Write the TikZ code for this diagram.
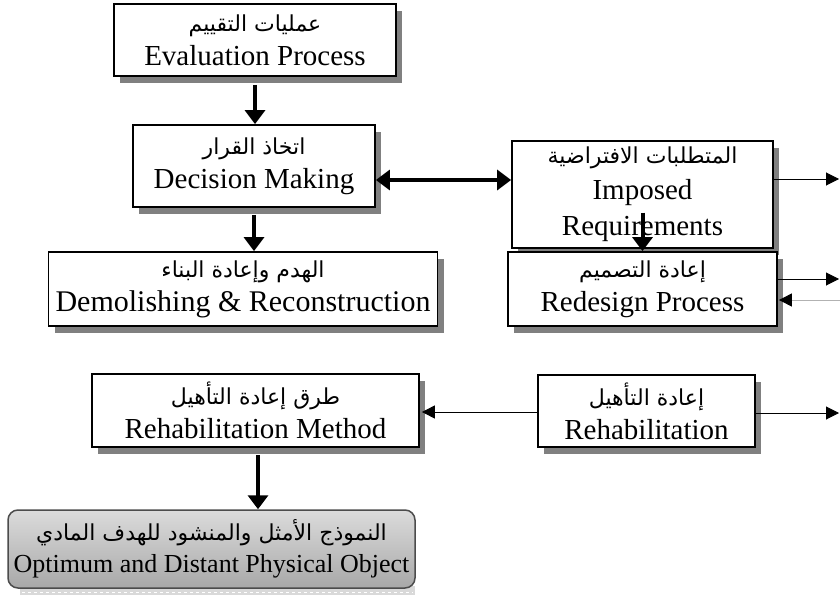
\documentclass[tikz,border=0pt]{standalone}
\usepackage{fontspec}
\setmainfont{Liberation Serif}
\newfontfamily\arfont[Script=Arabic]{DejaVu Sans}
\TeXXeTstate=1
\usetikzlibrary{arrows.meta,shadows}
\definecolor{shadowgray}{HTML}{808080}
\newcommand{\artext}[1]{{\arfont\fontsize{22}{34}\selectfont\beginR #1\endR}}

\begin{document}
\begin{tikzpicture}[x=1pt,y=-1pt,
  box/.style={draw=black, line width=1.8pt, fill=white, inner sep=0pt, align=center,
    font=\fontsize{29}{34}\selectfont,
    drop shadow={fill=shadowgray, opacity=1, shadow xshift=6pt, shadow yshift=-7pt}},
  optbox/.style={draw=gray!60!black, line width=1.5pt, rounded corners=10pt, inner sep=0pt,
    align=center, font=\fontsize{26}{32}\selectfont, top color=gray!28, bottom color=gray!68},
  heavyarrow/.style={line width=4pt, -{Triangle[width=20pt,length=14pt]}},
  lightarrow/.style={line width=1pt, -{Triangle[width=13pt,length=13pt]}},
]
\useasboundingbox (0,0) rectangle (840,599);

% boxes
\node[box, minimum width=282pt, minimum height=72pt] (eval) at (255,40)
  {\artext{عمليات التقييم}\\Evaluation Process};
\node[box, minimum width=242pt, minimum height=82pt] (dec) at (254,166)
  {\artext{اتخاذ القرار}\\Decision Making};
\node[box, minimum width=389pt, minimum height=74pt, font=\fontsize{30}{34}\selectfont] (dem) at (243,289)
  {\artext{الهدم وإعادة البناء}\\Demolishing \& Reconstruction};
\node[box, minimum width=261pt, minimum height=107pt, font=\fontsize{29}{36}\selectfont] (imp) at (642.5,194.5)
  {\artext{المتطلبات الافتراضية}\\Imposed\\Requirements};
\node[box, minimum width=269pt, minimum height=74pt] (red) at (642.5,289)
  {\artext{إعادة التصميم}\\Redesign Process};
\node[box, minimum width=217pt, minimum height=72pt] (reh) at (646.5,411)
  {\artext{إعادة التأهيل}\\Rehabilitation};
\node[box, minimum width=327pt, minimum height=73pt] (rmeth) at (255.5,410.5)
  {\artext{طرق إعادة التأهيل}\\Rehabilitation Method};

% final object box with its textured base strip
\fill[gray!30] (20,586) rectangle (415,595);
\draw[white, line width=1pt, dash pattern=on 3pt off 3pt] (22,592) -- (413,592);
\node[optbox, minimum width=407pt, minimum height=78pt] (opt) at (211.5,549)
  {\artext{النموذج الأمثل والمنشود للهدف المادي}\\Optimum and Distant Physical Object};

% connectors
\draw[heavyarrow] ([yshift=-8pt]eval.south) -- (eval.south |- dec.north);
\draw[heavyarrow] ([yshift=-7pt]dec.south) -- (dec.south |- dem.north);
\coordinate (dy) at ([yshift=-14pt]dec.east);
\draw[line width=4pt, {Triangle[width=20pt,length=14pt]}-{Triangle[width=20pt,length=14pt]}]
  (dy) -- (imp.west |- dy);
\draw[heavyarrow] ([yshift=-18pt]imp.center) -- (imp.center |- red.north);
\coordinate (m1) at (258,455);
\draw[heavyarrow] (m1) -- (m1 |- opt.north);

\coordinate (o1) at (839,179);
\coordinate (o2) at (839,279);
\coordinate (i1) at (840,300);
\coordinate (o3) at (839,413);
\coordinate (w1) at (538,412);
\draw[lightarrow] (imp.east |- o1) -- (o1);
\draw[lightarrow] (red.east |- o2) -- (o2);
\draw[line width=1pt, gray!60, -{Triangle[width=13pt,length=13pt,color=black]}]
  (i1) -- ([xshift=1pt]red.east |- i1);
\draw[lightarrow] (reh.east |- o3) -- (o3);
\draw[lightarrow] (reh.west |- w1) -- ([xshift=2pt]rmeth.east |- w1);
\end{tikzpicture}
\end{document}
